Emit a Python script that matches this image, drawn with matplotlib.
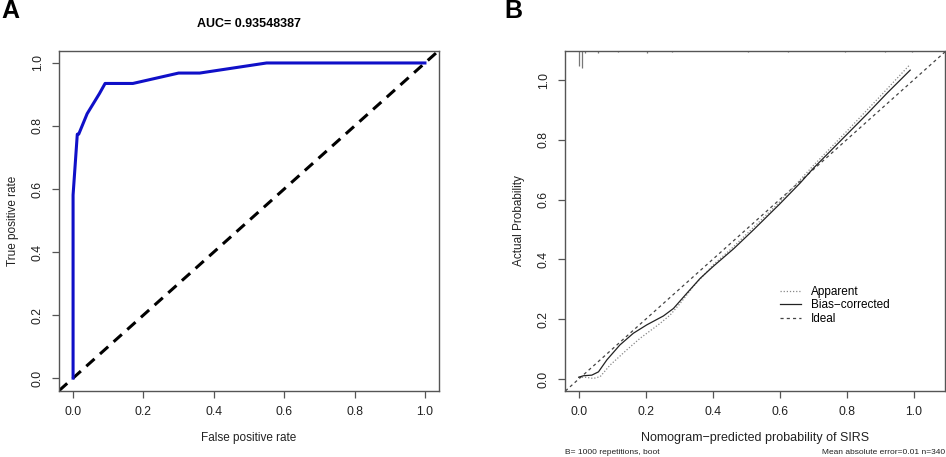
import matplotlib
matplotlib.use("Agg")
import matplotlib.pyplot as plt
import numpy as np

plt.rcParams['font.family'] = ['Liberation Sans', 'DejaVu Sans']

# ---- panel A: ROC curve ----
fpr = [0.0, 0.0, 0.012, 0.016, 0.04, 0.075, 0.091, 0.17, 0.30, 0.36, 0.55, 1.0]
tpr = [0.0, 0.581, 0.774, 0.774, 0.839, 0.903, 0.935, 0.935, 0.968, 0.968, 1.0, 1.0]
auc_text = "AUC= 0.93548387"

# ---- panel B: calibration ----
bias_x = [0.0, 0.014, 0.039, 0.059, 0.084, 0.123, 0.163, 0.203, 0.253, 0.283, 0.323,
          0.363, 0.403, 0.463, 0.523, 0.60, 0.661, 0.701, 0.80, 0.861, 0.92, 0.99]
bias_y = [0.006, 0.011, 0.013, 0.024, 0.064, 0.114, 0.153, 0.181, 0.211, 0.236, 0.287,
          0.337, 0.378, 0.436, 0.50, 0.585, 0.655, 0.705, 0.817, 0.886, 0.955, 1.033]
app_x = [0.0, 0.02, 0.044, 0.064, 0.094, 0.143, 0.183, 0.243, 0.273, 0.303, 0.342,
         0.40, 0.46, 0.52, 0.60, 0.70, 0.80, 0.90, 0.988]
app_y = [0.006, 0.006, 0.002, 0.008, 0.047, 0.097, 0.136, 0.186, 0.214, 0.253, 0.309,
         0.38, 0.44, 0.505, 0.592, 0.713, 0.828, 0.945, 1.050]
# rug of predicted probabilities along the top (x, relative height)
rug_x = [0.0, 0.011, 0.019, 0.058, 0.118, 0.203, 0.278, 0.507, 0.626, 0.796, 0.915, 0.995]
rug_h = [0.050, 0.058, 0.006, 0.006, 0.004, 0.006, 0.004, 0.004, 0.004, 0.004, 0.004, 0.004]

ticks = [0.0, 0.2, 0.4, 0.6, 0.8, 1.0]
tick_lbl = ["0.0", "0.2", "0.4", "0.6", "0.8", "1.0"]
frame = '#555555'

W, H = 946, 457
fig = plt.figure(figsize=(W / 100, H / 100), dpi=100)


def make_axes(l, r, t, b):
    return fig.add_axes([l / W, 1 - b / H, (r - l) / W, (b - t) / H])


def style(ax):
    for s in ax.spines.values():
        s.set_color(frame)
        s.set_linewidth(1.0)
    ax.tick_params(direction='out', length=5, width=0.9, color=frame,
                   labelsize=8.8, pad=6, labelcolor='#222222')
    ax.set_xticks(ticks)
    ax.set_xticklabels(tick_lbl)
    ax.set_yticks(ticks)
    ax.set_yticklabels(tick_lbl, rotation=90, va='center')


# A
axA = make_axes(59, 439, 51, 391)
style(axA)
axA.set_xlim(-0.04, 1.04)
axA.set_ylim(-0.041, 1.038)
axA.axline((0, 0), slope=1, color='black', lw=2.2, dashes=(3.6, 2.4))
axA.plot(fpr, tpr, color='#1010C8', lw=2.2, solid_joinstyle='round')
axA.set_xlabel("False positive rate", fontsize=8.5, color='#222222')
axA.set_ylabel("True positive rate", fontsize=8.5, color='#222222')
axA.xaxis.set_label_coords(0.5, -0.138)
axA.xaxis.label.set_va('center')
axA.yaxis.set_label_coords(-0.121, 0.5)
axA.yaxis.label.set_va('center')
fig.text(249 / W, 1 - 24 / H, auc_text, ha='center', va='center',
         fontsize=9, fontweight='bold')
fig.text(1 / W, 1 - 11 / H, "A", ha='left', va='center', fontsize=18, fontweight='bold')

# B
axB = make_axes(565, 945, 51, 391)
style(axB)
axB.set_xlim(-0.041, 1.094)
axB.set_ylim(-0.040, 1.097)
axB.axline((0, 0), slope=1, color='#444444', lw=0.9, dashes=(2.5, 2.5), label='Ideal')
axB.plot(app_x, app_y, color='#888888', lw=0.9, linestyle=(0, (1, 1.5)), label='Apparent')
axB.plot(bias_x, bias_y, color='#222222', lw=0.9, label='Bias\u2212corrected')
top = 1.097
axB.vlines(rug_x, [top - h for h in rug_h], top, color='#777777', lw=0.9)
handles, labels = axB.get_legend_handles_labels()
order = [1, 2, 0]
axB.legend([handles[i] for i in order], [labels[i] for i in order],
           loc='upper left', bbox_to_anchor=(0.566, 0.309), frameon=False,
           fontsize=8.5, handlelength=1.8, handletextpad=0.8, labelspacing=0.12,
           borderpad=0, borderaxespad=0)
axB.set_xlabel("Nomogram\u2212predicted probability of SIRS", fontsize=9, color='#222222')
axB.set_ylabel("Actual Probability", fontsize=8.5, color='#222222')
axB.xaxis.set_label_coords(0.5, -0.138)
axB.xaxis.label.set_va('center')
axB.yaxis.set_label_coords(-0.121, 0.5)
axB.yaxis.label.set_va('center')
fig.text(565 / W, 1 - 452 / H, "B= 1000 repetitions, boot", ha='left', va='center',
         fontsize=6, color='#222222')
fig.text(945 / W, 1 - 452 / H, "Mean absolute error=0.01 n=340", ha='right', va='center',
         fontsize=6, color='#222222')
fig.text(504 / W, 1 - 11 / H, "B", ha='left', va='center', fontsize=18, fontweight='bold')

fig.savefig("out.png", dpi=100)
